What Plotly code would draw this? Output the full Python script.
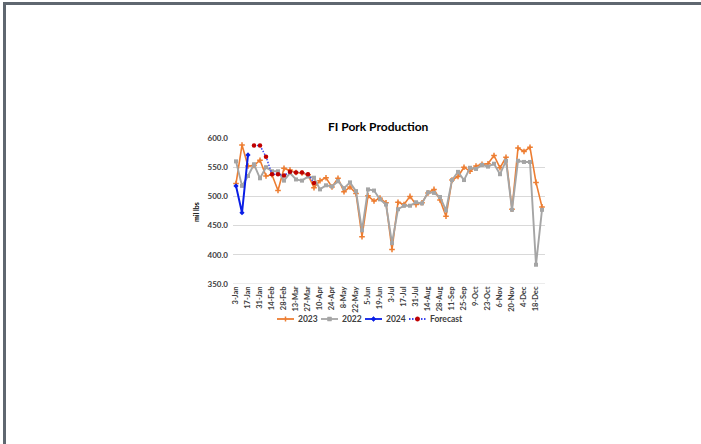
import plotly.graph_objects as go

# Weekly category labels (52 weeks)
weeks = [
    "3-Jan", "10-Jan", "17-Jan", "24-Jan", "31-Jan", "7-Feb", "14-Feb", "21-Feb",
    "28-Feb", "6-Mar", "13-Mar", "20-Mar", "27-Mar", "3-Apr", "10-Apr", "17-Apr",
    "24-Apr", "1-May", "8-May", "15-May", "22-May", "29-May", "5-Jun", "12-Jun",
    "19-Jun", "26-Jun", "3-Jul", "10-Jul", "17-Jul", "24-Jul", "31-Jul", "7-Aug",
    "14-Aug", "21-Aug", "28-Aug", "4-Sep", "11-Sep", "18-Sep", "25-Sep", "2-Oct",
    "9-Oct", "16-Oct", "23-Oct", "30-Oct", "6-Nov", "13-Nov", "20-Nov", "27-Nov",
    "4-Dec", "11-Dec", "18-Dec", "25-Dec",
]

# Labelled ticks: every other week
tick_labels = weeks[::2]

prod_2023 = [
    522, 588, 552, 553, 562, 535, 537, 510, 548, 545, 541, 540, 537, 515, 527, 532,
    516, 531, 508, 516, 505, 431, 501, 492, 497, 489, 409, 490, 486, 500, 486, 489,
    506, 512, 494, 466, 528, 534, 550, 543, 552, 555, 556, 570, 549, 567, 478, 583,
    577, 584, 524, 482,
]

prod_2022 = [
    560, 518, 535, 555, 531, 550, 543, 543, 527, 540, 529, 527, 534, 532, 512, 519,
    517, 526, 514, 524, 509, 442, 512, 510, 495, 486, 420, 478, 484, 484, 490, 488,
    507, 506, 499, 476, 528, 542, 528, 549, 547, 554, 551, 556, 538, 561, 477, 561,
    559, 559, 383, 477,
]

weeks_2024 = weeks[0:3]
prod_2024 = [518, 472, 571]

weeks_forecast = weeks[3:14]
prod_forecast = [587, 587, 568, 538, 538, 536, 542, 541, 541, 538, 523]

y_ticks = [350, 400, 450, 500, 550, 600]

FONT = "Lato"
TEXT = "#404040"
C2023, C2022, C2024 = "#ED7D31", "#A5A5A5", "#0A1EE6"
CFC_LINE, CFC_DOT = "#3A46F0", "#C00000"
DOTTED = "1.5px,1.5px"

W, H = 701, 444
L, R, T, B = 233, 156, 138, 160
PW, PH = W - L - R, H - T - B


def px_x(px):
    return (px - L) / PW


def px_y(py):
    return (H - B - py) / PH


fig = go.Figure()

fig.add_trace(go.Scatter(
    x=weeks, y=prod_2023, name="2023", mode="lines+markers",
    line=dict(color=C2023, width=1.6),
    marker=dict(symbol="cross-thin", size=4, color=C2023,
                line=dict(color=C2023, width=1.5)),
))
fig.add_trace(go.Scatter(
    x=weeks, y=prod_2022, name="2022", mode="lines+markers",
    line=dict(color=C2022, width=1.9),
    marker=dict(symbol="square", size=4, color=C2022),
))
fig.add_trace(go.Scatter(
    x=weeks_2024, y=prod_2024, name="2024", mode="lines+markers",
    line=dict(color=C2024, width=2),
    marker=dict(symbol="diamond", size=4, color=C2024),
))
fig.add_trace(go.Scatter(
    x=weeks_forecast, y=prod_forecast, name="Forecast", mode="lines+markers",
    line=dict(color=CFC_LINE, width=1.5, dash=DOTTED),
    marker=dict(symbol="circle", size=4.5, color=CFC_DOT),
))

# ---- legend drawn as shapes + text along the bottom ----
shapes = []
annotations = []
LEG_Y = 319
legend_items = [
    # name, line start px, line colour, dash, marker kind, marker colour
    ("2023", 277, C2023, "solid", "cross", C2023),
    ("2022", 321, C2022, "solid", "square", C2022),
    ("2024", 365, C2024, "solid", "diamond", C2024),
    ("Forecast", 409, CFC_LINE, DOTTED, "circle", CFC_DOT),
]
for name, x0, lc, dash, kind, mc in legend_items:
    x1 = x0 + 17
    xm = (x0 + x1) / 2
    shapes.append(dict(type="line", xref="paper", yref="paper",
                       x0=px_x(x0), x1=px_x(x1), y0=px_y(LEG_Y), y1=px_y(LEG_Y),
                       line=dict(color=lc, width=1.8, dash=dash)))
    r = 2.2
    if kind == "circle":
        shapes.append(dict(type="circle", xref="paper", yref="paper",
                           x0=px_x(xm - r), x1=px_x(xm + r),
                           y0=px_y(LEG_Y + r), y1=px_y(LEG_Y - r),
                           fillcolor=mc, line=dict(color=mc, width=0.5)))
    elif kind == "square":
        shapes.append(dict(type="rect", xref="paper", yref="paper",
                           x0=px_x(xm - 2), x1=px_x(xm + 2),
                           y0=px_y(LEG_Y + 2), y1=px_y(LEG_Y - 2),
                           fillcolor=mc, line=dict(color=mc, width=0.5)))
    elif kind == "diamond":
        pts = [(xm, LEG_Y - 2.5), (xm + 2.5, LEG_Y), (xm, LEG_Y + 2.5), (xm - 2.5, LEG_Y)]
        path = "M " + " L ".join(f"{px_x(a)},{px_y(b)}" for a, b in pts) + " Z"
        shapes.append(dict(type="path", xref="paper", yref="paper", path=path,
                           fillcolor=mc, line=dict(color=mc, width=0.5)))
    elif kind == "cross":
        shapes.append(dict(type="line", xref="paper", yref="paper",
                           x0=px_x(xm), x1=px_x(xm), y0=px_y(LEG_Y - 2.5), y1=px_y(LEG_Y + 2.5),
                           line=dict(color=mc, width=1.5)))
    annotations.append(dict(text=name, xref="paper", yref="paper",
                            x=px_x(x1 + 2), y=px_y(LEG_Y), xanchor="left", yanchor="middle",
                            showarrow=False,
                            font=dict(family=FONT, size=8.5, color=TEXT, weight="bold")))

annotations += [
    dict(text="FI Pork Production", xref="paper", yref="paper",
         x=px_x(378), y=px_y(127), xanchor="center", yanchor="middle",
         showarrow=False,
         font=dict(family=FONT, size=12, color="#000000", weight="bold")),
    dict(text="mil lbs", xref="paper", yref="paper",
         x=px_x(196), y=px_y(212), xanchor="center", yanchor="middle",
         textangle=-90, showarrow=False,
         font=dict(family=FONT, size=7, color="#000000", weight="bold")),
]

shapes += [
    # bottom axis line
    dict(type="line", xref="paper", yref="y", x0=0, x1=1, y0=350, y1=350,
         line=dict(color="#D9D9D9", width=1), layer="below"),
    # page frame: top and left edges
    dict(type="line", xref="paper", yref="paper",
         x0=px_x(3), x1=px_x(701), y0=px_y(3.5), y1=px_y(3.5),
         line=dict(color="#5F6770", width=3)),
    dict(type="line", xref="paper", yref="paper",
         x0=px_x(4.5), x1=px_x(4.5), y0=px_y(2), y1=px_y(444),
         line=dict(color="#5F6770", width=3)),
]

fig.update_layout(
    width=W, height=H,
    margin=dict(l=L, r=R, t=T, b=B),
    paper_bgcolor="white", plot_bgcolor="white",
    font=dict(family=FONT, color=TEXT),
    showlegend=False,
    xaxis=dict(
        type="category", categoryorder="array", categoryarray=weeks,
        range=[-0.5, len(weeks) - 0.5],
        tickmode="array", tickvals=tick_labels, ticktext=tick_labels,
        tickangle=-90, tickfont=dict(family=FONT, size=7.5, color=TEXT, weight="bold"),
        showgrid=False, showline=False, zeroline=False, ticks="",
    ),
    yaxis=dict(
        range=[350, 600], tickvals=y_ticks,
        ticktext=[f"{v:.1f}" for v in y_ticks],
        tickfont=dict(family=FONT, size=8, color=TEXT, weight="bold"),
        ticklabelstandoff=4,
        showgrid=True, gridcolor="#D9D9D9", gridwidth=1,
        zeroline=False, showline=False, ticks="",
    ),
    annotations=annotations,
    shapes=shapes,
)

fig.write_html("out.html")
